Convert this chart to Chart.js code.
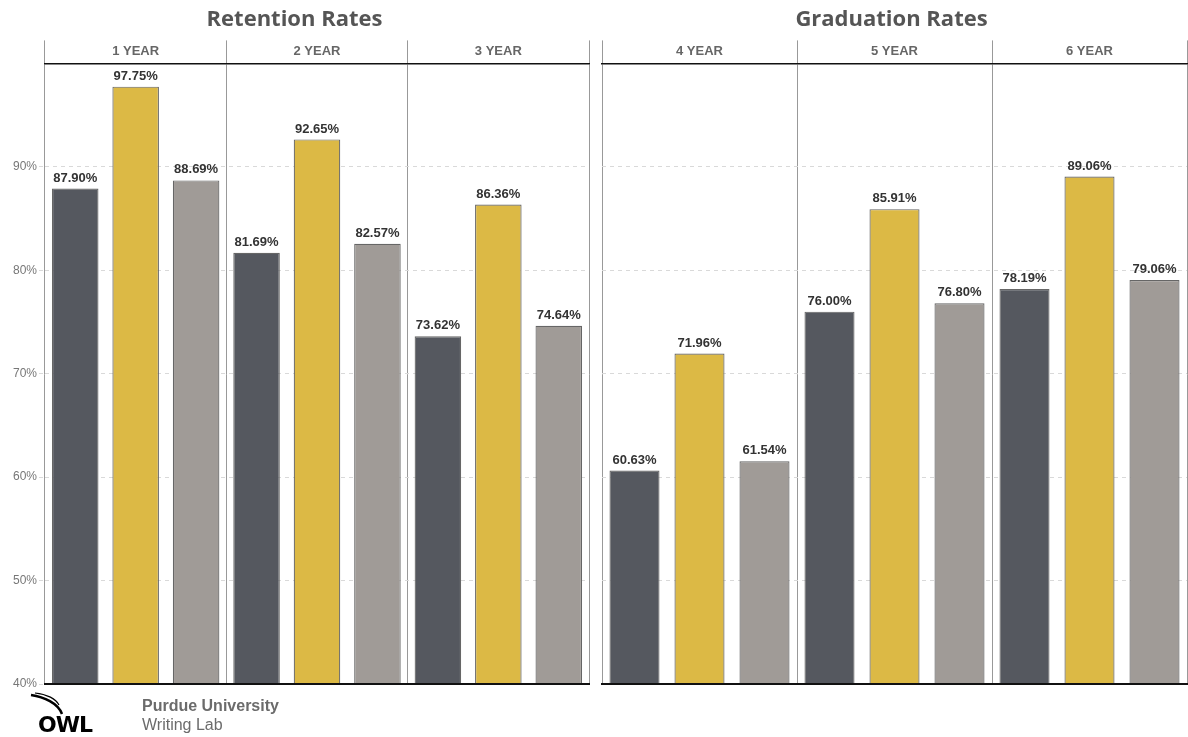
<!DOCTYPE html>
<html>
<head>
<meta charset="utf-8">
<script src="https://cdn.jsdelivr.net/npm/chart.js@4/dist/chart.umd.min.js"></script>
<style>
  body { margin: 0; background: #fff; }
  #page { position: relative; width: 1188px; height: 737px; overflow: hidden; }
  canvas { position: absolute; top: 0; }
  #retention { left: 0; }
  #graduation { left: 596px; }
  .brand { position: absolute; left: 142px; top: 696px; color: #6b6b6b; font-family: "Liberation Sans", Arial, sans-serif; font-size: 16px; line-height: 19px; }
  .brand b { display: block; }
  #owl { position: absolute; left: 28px; top: 692px; }
</style>
</head>
<body>
<div id="page">
  <canvas id="retention" width="596" height="737"></canvas>
  <canvas id="graduation" width="592" height="737"></canvas>
  <svg id="owl" width="80" height="45" viewBox="0 0 80 45">
    <path d="M3 3 C 16 5, 30 11, 34 22" fill="none" stroke="#000" stroke-width="2.5"/>
    <path d="M7 1 C 19 2, 28 7, 31 13" fill="none" stroke="#000" stroke-width="1.2"/>
    <text x="10" y="40" font-family="DejaVu Sans" font-weight="bold" font-size="22" letter-spacing="-1" fill="#000">OWL</text>
  </svg>
  <div class="brand"><b>Purdue University</b>Writing Lab</div>
</div>
<script>
// retention groups
const retentionYears = ['1 YEAR', '2 YEAR', '3 YEAR'];
const retentionDark = [87.90, 81.69, 73.62];
const retentionGold = [97.75, 92.65, 86.36];
const retentionGray = [88.69, 82.57, 74.64];

// graduation groups
const graduationYears = ['4 YEAR', '5 YEAR', '6 YEAR'];
const graduationDark = [60.63, 76.00, 78.19];
const graduationGold = [71.96, 85.91, 89.06];
const graduationGray = [61.54, 76.80, 79.06];

const yTicks = [40, 50, 60, 70, 80, 90, 100];

const barColors = ['#55585f', '#dcb945', '#a09b97'];
const labelFont = 'bold 13px "Liberation Sans", Arial, sans-serif';

// value labels above each bar
const valueLabels = {
    id: 'valueLabels',
    afterDatasetsDraw(chart) {
        const ctx = chart.ctx;
        ctx.save();
        ctx.font = labelFont;
        ctx.fillStyle = '#333';
        ctx.textAlign = 'center';
        ctx.textBaseline = 'bottom';
        chart.data.datasets.forEach((ds, i) => {
            chart.getDatasetMeta(i).data.forEach((bar, j) => {
                ctx.fillText(ds.data[j].toFixed(2) + '%', bar.x, bar.y - 4);
            });
        });
        ctx.restore();
    }
};

// thick black baseline
const baseLine = {
    id: 'baseLine',
    afterDraw(chart) {
        const a = chart.chartArea;
        const ctx = chart.ctx;
        ctx.save();
        ctx.strokeStyle = '#111';
        ctx.lineWidth = 2;
        ctx.beginPath();
        ctx.moveTo(a.left - 1, a.bottom);
        ctx.lineTo(a.right + 1, a.bottom);
        ctx.stroke();
        ctx.restore();
    }
};

function makeChart(id, title, years, dark, gold, gray, showY, yWidth, rightPad) {
    const datasets = [dark, gold, gray].map((vals, i) => ({
        label: 'series ' + (i + 1),
        data: vals,
        backgroundColor: barColors[i],
        borderColor: '#666',
        borderWidth: 1.2,
        borderSkipped: false,
        barPercentage: 0.77,
        categoryPercentage: 1.0
    }));

    return new Chart(document.getElementById(id), {
        type: 'bar',
        data: { labels: years, datasets: datasets },
        plugins: [valueLabels, baseLine],
        options: {
            responsive: false,
            animation: false,
            layout: { padding: { left: 0, right: rightPad, top: 0, bottom: 53 } },
            plugins: {
                legend: { display: false },
                tooltip: { enabled: false },
                title: {
                    display: true,
                    text: title,
                    color: '#555',
                    font: { family: '"Open Sans", sans-serif', size: 22, weight: 'bold', lineHeight: 1.2 },
                    padding: { top: 7, bottom: 7 }
                }
            },
            scales: {
                x: {
                    position: 'top',
                    afterFit: s => { s.height = 23; },
                    grid: { offset: true, color: '#999', lineWidth: 1, drawTicks: true, tickLength: 23 },
                    border: { display: true, color: '#111', width: 1.5 },
                    ticks: {
                        color: '#666',
                        padding: -19,
                        font: { family: '"Liberation Sans", Arial, sans-serif', size: 13, weight: 'bold' }
                    }
                },
                y: {
                    min: 40,
                    max: 100,
                    afterBuildTicks: s => { s.ticks = yTicks.map(v => ({ value: v })); },
                    afterFit: s => { s.width = yWidth; },
                    grid: {
                        color: c => (c.tick && c.tick.value === 100) ? 'rgba(0,0,0,0)' : '#d9d9d9',
                        drawTicks: showY,
                        tickLength: 6,
                        tickBorderDash: [4, 4]
                    },
                    border: { display: false, dash: [4, 4] },
                    ticks: {
                        display: showY,
                        padding: 2,
                        color: '#777',
                        font: { family: '"Liberation Sans", Arial, sans-serif', size: 12 },
                        callback: v => v === 100 ? '' : v + '%'
                    }
                }
            }
        }
    });
}

makeChart('retention', 'Retention Rates', retentionYears, retentionDark, retentionGold, retentionGray, true, 45, 7);
makeChart('graduation', 'Graduation Rates', graduationYears, graduationDark, graduationGold, graduationGray, false, 6, 1);
</script>
</body>
</html>
